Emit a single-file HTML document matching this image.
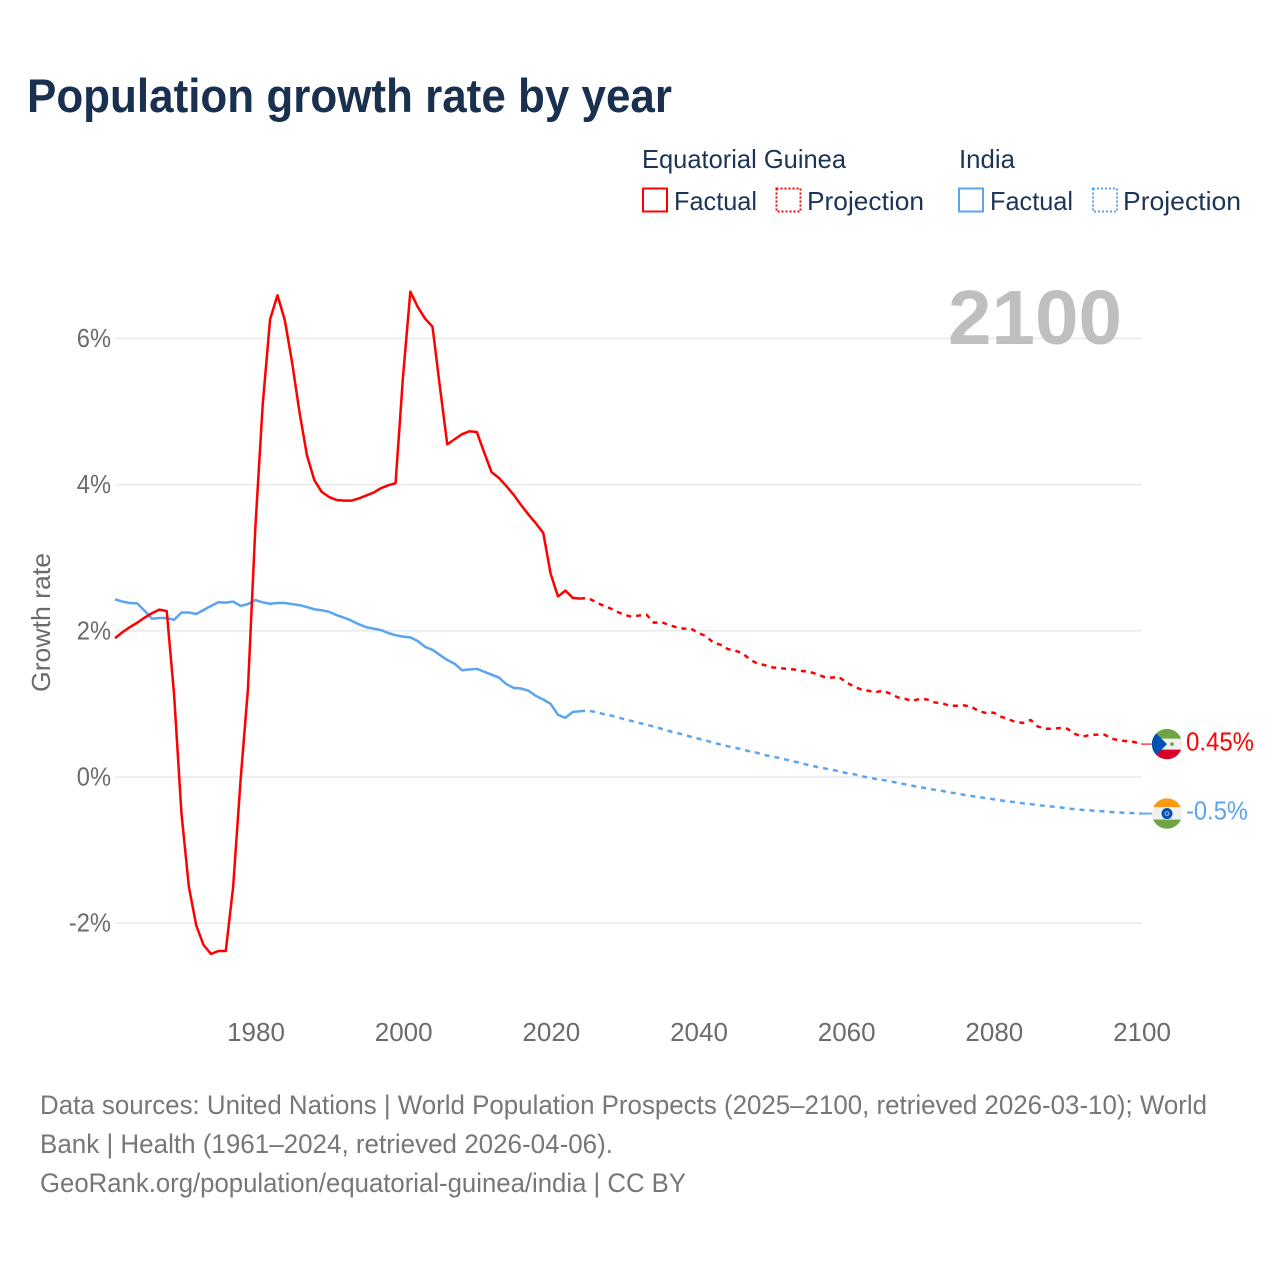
<!DOCTYPE html>
<html lang="en">
<head>
<meta charset="utf-8">
<title>Population growth rate by year</title>
<style>
  html,body{margin:0;padding:0;background:#fff;}
  svg{display:block;font-family:"Liberation Sans",sans-serif;}
</style>
</head>
<body>
<svg id="chart" xmlns="http://www.w3.org/2000/svg" width="1280" height="1280" viewBox="0 0 1280 1280">
  <rect x="0" y="0" width="1280" height="1280" fill="#ffffff"/>
  <text x="27" y="112" font-size="47" font-weight="700" fill="#19304f" textLength="645" lengthAdjust="spacingAndGlyphs">Population growth rate by year</text>

  <g font-size="26" fill="#1c3557">
    <text x="642" y="168" textLength="204" lengthAdjust="spacingAndGlyphs">Equatorial Guinea</text>
    <text x="959" y="168" textLength="56" lengthAdjust="spacingAndGlyphs">India</text>
    <rect x="643" y="188.5" width="24" height="23" fill="none" stroke="#ff0000" stroke-width="2"/>
    <text x="674" y="210" textLength="83" lengthAdjust="spacingAndGlyphs">Factual</text>
    <rect x="776.5" y="188.5" width="24" height="23" fill="none" stroke="#ff0000" stroke-width="2" stroke-dasharray="2 2"/>
    <text x="807" y="210" textLength="117" lengthAdjust="spacingAndGlyphs">Projection</text>
    <rect x="959" y="188.5" width="24" height="23" fill="none" stroke="#5ba4ee" stroke-width="2"/>
    <text x="990" y="210" textLength="83" lengthAdjust="spacingAndGlyphs">Factual</text>
    <rect x="1093" y="188.5" width="24" height="23" fill="none" stroke="#5ba4ee" stroke-width="2" stroke-dasharray="2 2"/>
    <text x="1123" y="210" textLength="118" lengthAdjust="spacingAndGlyphs">Projection</text>
  </g>

  <text transform="translate(50,692) rotate(-90)" font-size="26" fill="#6b6b6b" textLength="139" lengthAdjust="spacingAndGlyphs">Growth rate</text>

  <g id="grid"></g>
  <g id="y-ticks"></g>
  <g id="x-ticks"></g>

  <text x="948" y="344" font-size="77" font-weight="700" fill="#bfbfbf" textLength="174" lengthAdjust="spacingAndGlyphs">2100</text>

  <g id="series"></g>

  <g id="end-markers"></g>

  <g font-size="27" fill="#777777">
    <text x="40" y="1114" textLength="1167" lengthAdjust="spacingAndGlyphs">Data sources: United Nations | World Population Prospects (2025–2100, retrieved 2026-03-10); World</text>
    <text x="40" y="1153" textLength="573" lengthAdjust="spacingAndGlyphs">Bank | Health (1961–2024, retrieved 2026-04-06).</text>
    <text x="40" y="1192" textLength="646" lengthAdjust="spacingAndGlyphs">GeoRank.org/population/equatorial-guinea/india | CC BY</text>
  </g>
</svg>

<script>
// ---- Data (growth rate, %) ----
const factualStartYear = 1961;
const projectionStartYear = 2024;

const guineaFactual = [
  1.90,1.98,2.05,2.11,2.18,2.24,2.29,2.27,1.13,-0.50,
  -1.50,-2.03,-2.30,-2.42,-2.38,-2.38,-1.50,-0.05,1.20,3.40,
  5.09,6.26,6.59,6.25,5.66,4.98,4.40,4.06,3.90,3.83,
  3.79,3.78,3.78,3.81,3.85,3.89,3.95,3.99,4.02,5.47,
  6.64,6.43,6.27,6.16,5.34,4.55,4.62,4.69,4.73,4.72,
  4.44,4.17,4.09,3.98,3.86,3.72,3.59,3.47,3.34,2.78,
  2.47,2.55,2.45,2.44
];
const guineaProjection = [
  2.44,2.45,2.40,2.35,2.31,2.26,2.22,2.19,2.21,2.22,
  2.11,2.12,2.08,2.05,2.03,2.03,1.97,1.93,1.84,1.81,
  1.75,1.73,1.69,1.61,1.55,1.53,1.50,1.49,1.48,1.47,
  1.45,1.44,1.41,1.37,1.36,1.37,1.30,1.24,1.20,1.18,
  1.16,1.18,1.14,1.09,1.07,1.04,1.07,1.06,1.02,1.01,
  0.975,0.975,0.98,0.96,0.90,0.875,0.88,0.825,0.79,0.75,
  0.74,0.78,0.69,0.66,0.66,0.67,0.66,0.59,0.55,0.575,
  0.58,0.58,0.525,0.50,0.49,0.48,0.45
];
const indiaFactual = [
  2.43,2.40,2.38,2.375,2.275,2.165,2.175,2.175,2.15,2.25,
  2.25,2.23,2.285,2.34,2.39,2.385,2.40,2.34,2.365,2.42,
  2.39,2.37,2.38,2.38,2.365,2.35,2.325,2.295,2.28,2.26,
  2.215,2.18,2.14,2.09,2.05,2.03,2.01,1.97,1.94,1.92,
  1.91,1.86,1.78,1.74,1.67,1.60,1.55,1.46,1.47,1.48,
  1.44,1.40,1.36,1.27,1.22,1.21,1.18,1.11,1.06,1.00,
  0.85,0.81,0.89,0.90
];
const indiaProjection = [
  0.90,0.91,0.89,0.865,0.845,0.82,0.79,0.765,0.74,0.715,
  0.69,0.66,0.63,0.605,0.58,0.55,0.525,0.50,0.47,0.445,
  0.42,0.40,0.375,0.35,0.33,0.30,0.28,0.26,0.235,0.21,
  0.19,0.16,0.14,0.12,0.10,0.08,0.055,0.04,0.015,-0.01,
  -0.025,-0.04,-0.06,-0.08,-0.10,-0.12,-0.14,-0.155,-0.175,-0.19,
  -0.21,-0.225,-0.245,-0.26,-0.275,-0.29,-0.305,-0.32,-0.335,-0.345,
  -0.36,-0.37,-0.385,-0.395,-0.405,-0.415,-0.43,-0.44,-0.45,-0.455,
  -0.465,-0.47,-0.48,-0.485,-0.49,-0.495,-0.50
];
const yTickValues = [-2, 0, 2, 4, 6];
const yTickLabels = ["-2%", "0%", "2%", "4%", "6%"];
const xTickValues = [1980, 2000, 2020, 2040, 2060, 2080, 2100];
const xTickLabels = ["1980", "2000", "2020", "2040", "2060", "2080", "2100"];
const guineaEndLabel = "0.45%";
const indiaEndLabel = "-0.5%";

// ---- Axis functions ----
const NS = "http://www.w3.org/2000/svg";
function xScale(year) { return 256 + (year - 1980) * (1142 - 256) / 120; }
function yScale(v) { return 777 - v * 73.1; }
const lineShiftX = -0.7;
function make(tag, attrs, parent) {
  const el = document.createElementNS(NS, tag);
  for (const k in attrs) el.setAttribute(k, attrs[k]);
  parent.appendChild(el);
  return el;
}
function pathFrom(values, startYear) {
  return values.map(function (v, i) {
    return (i ? "L" : "M") + (xScale(startYear + i) + lineShiftX).toFixed(2) + " " + yScale(v).toFixed(2);
  }).join(" ");
}

// ---- Grid and ticks ----
const gridG = document.getElementById("grid");
const yG = document.getElementById("y-ticks");
const xG = document.getElementById("x-ticks");
yTickValues.forEach(function (v, i) {
  const line = make("line", { x1: 115, x2: 1142, y1: yScale(v), y2: yScale(v), stroke: "#e9e9e9", "stroke-width": 1.5 }, gridG);
  
  
  const label = make("text", { x: 111, y: yScale(v) + 8.5, "text-anchor": "end", "font-size": 26, fill: "#6b6b6b" }, yG);
  label.textContent = yTickLabels[i];
  
  
  label.setAttribute("textLength", (label.getComputedTextLength() * 0.91).toFixed(1));
  label.setAttribute("lengthAdjust", "spacingAndGlyphs");
});
xTickValues.forEach(function (v, i) {
  const label = make("text", { x: xScale(v), y: 1041, "text-anchor": "middle", "font-size": 26, fill: "#6b6b6b" }, xG);
  label.textContent = xTickLabels[i];
  
  
});

// ---- Series ----
const seriesG = document.getElementById("series");
const guineaProjLine = make("path", { d: pathFrom(guineaProjection, projectionStartYear), fill: "none", stroke: "#ff0000", "stroke-width": 2.5, "stroke-dasharray": "5 5", "stroke-linejoin": "round" }, seriesG);


const indiaProjLine = make("path", { d: pathFrom(indiaProjection, projectionStartYear), fill: "none", stroke: "#5ba4ee", "stroke-width": 2.5, "stroke-dasharray": "5 5", "stroke-linejoin": "round" }, seriesG);


const indiaLine = make("path", { d: pathFrom(indiaFactual, factualStartYear), fill: "none", stroke: "#5ba4ee", "stroke-width": 2.5, "stroke-linejoin": "round" }, seriesG);


const guineaLine = make("path", { d: pathFrom(guineaFactual, factualStartYear), fill: "none", stroke: "#ff0000", "stroke-width": 2.5, "stroke-linejoin": "round" }, seriesG);



// ---- End markers ----
const endG = document.getElementById("end-markers");
const guineaEndY = yScale(guineaProjection[guineaProjection.length - 1]);
const indiaEndY = yScale(indiaProjection[indiaProjection.length - 1]);
const flagX = 1167;

const guineaLink = make("line", { x1: 1141, x2: 1152, y1: guineaEndY, y2: guineaEndY, stroke: "#ff0000", "stroke-width": 1.2, opacity: 0.9 }, endG);


const indiaLink = make("line", { x1: 1141, x2: 1152, y1: indiaEndY, y2: indiaEndY, stroke: "#5ba4ee", "stroke-width": 2, opacity: 0.9 }, endG);



const defs = make("defs", {}, endG);
const clipG = make("clipPath", { id: "clip-guinea" }, defs);
make("circle", { cx: flagX, cy: guineaEndY, r: 15.2 }, clipG);
const clipI = make("clipPath", { id: "clip-india" }, defs);
make("circle", { cx: flagX, cy: indiaEndY, r: 15.2 }, clipI);

// Equatorial Guinea flag
const gFlag = make("g", { "clip-path": "url(#clip-guinea)" }, endG);


make("rect", { x: flagX - 16, y: guineaEndY - 16, width: 32, height: 11, fill: "#6da544" }, gFlag);
make("rect", { x: flagX - 16, y: guineaEndY - 5.5, width: 32, height: 11, fill: "#f0f0f0" }, gFlag);
make("rect", { x: flagX - 16, y: guineaEndY + 5.5, width: 32, height: 11, fill: "#d80027" }, gFlag);
make("polygon", { points: (flagX - 16) + "," + (guineaEndY - 16) + " " + flagX + "," + guineaEndY + " " + (flagX - 16) + "," + (guineaEndY + 16), fill: "#0052b4" }, gFlag);
make("circle", { cx: flagX + 5, cy: guineaEndY, r: 1.8, fill: "#6da544" }, gFlag);

// India flag
const iFlag = make("g", { "clip-path": "url(#clip-india)" }, endG);


make("rect", { x: flagX - 16, y: indiaEndY - 16, width: 32, height: 10, fill: "#ff9811" }, iFlag);
make("rect", { x: flagX - 16, y: indiaEndY - 6.5, width: 32, height: 13, fill: "#f0f0f0" }, iFlag);
make("rect", { x: flagX - 16, y: indiaEndY + 6, width: 32, height: 10, fill: "#6da544" }, iFlag);
make("circle", { cx: flagX, cy: indiaEndY, r: 5.5, fill: "#0052b4" }, iFlag);
make("circle", { cx: flagX, cy: indiaEndY, r: 2.6, fill: "#7fa3d6" }, iFlag);
make("circle", { cx: flagX, cy: indiaEndY, r: 1.2, fill: "#0052b4" }, iFlag);

const gVal = make("text", { x: 1186, y: guineaEndY + 6.5, "font-size": 26, fill: "#ff0000", textLength: 68, lengthAdjust: "spacingAndGlyphs" }, endG);
gVal.textContent = guineaEndLabel;


const iVal = make("text", { x: 1186, y: indiaEndY + 6, "font-size": 26, fill: "#5ba4ee", textLength: 62, lengthAdjust: "spacingAndGlyphs" }, endG);
iVal.textContent = indiaEndLabel;


</script>
</body>
</html>
